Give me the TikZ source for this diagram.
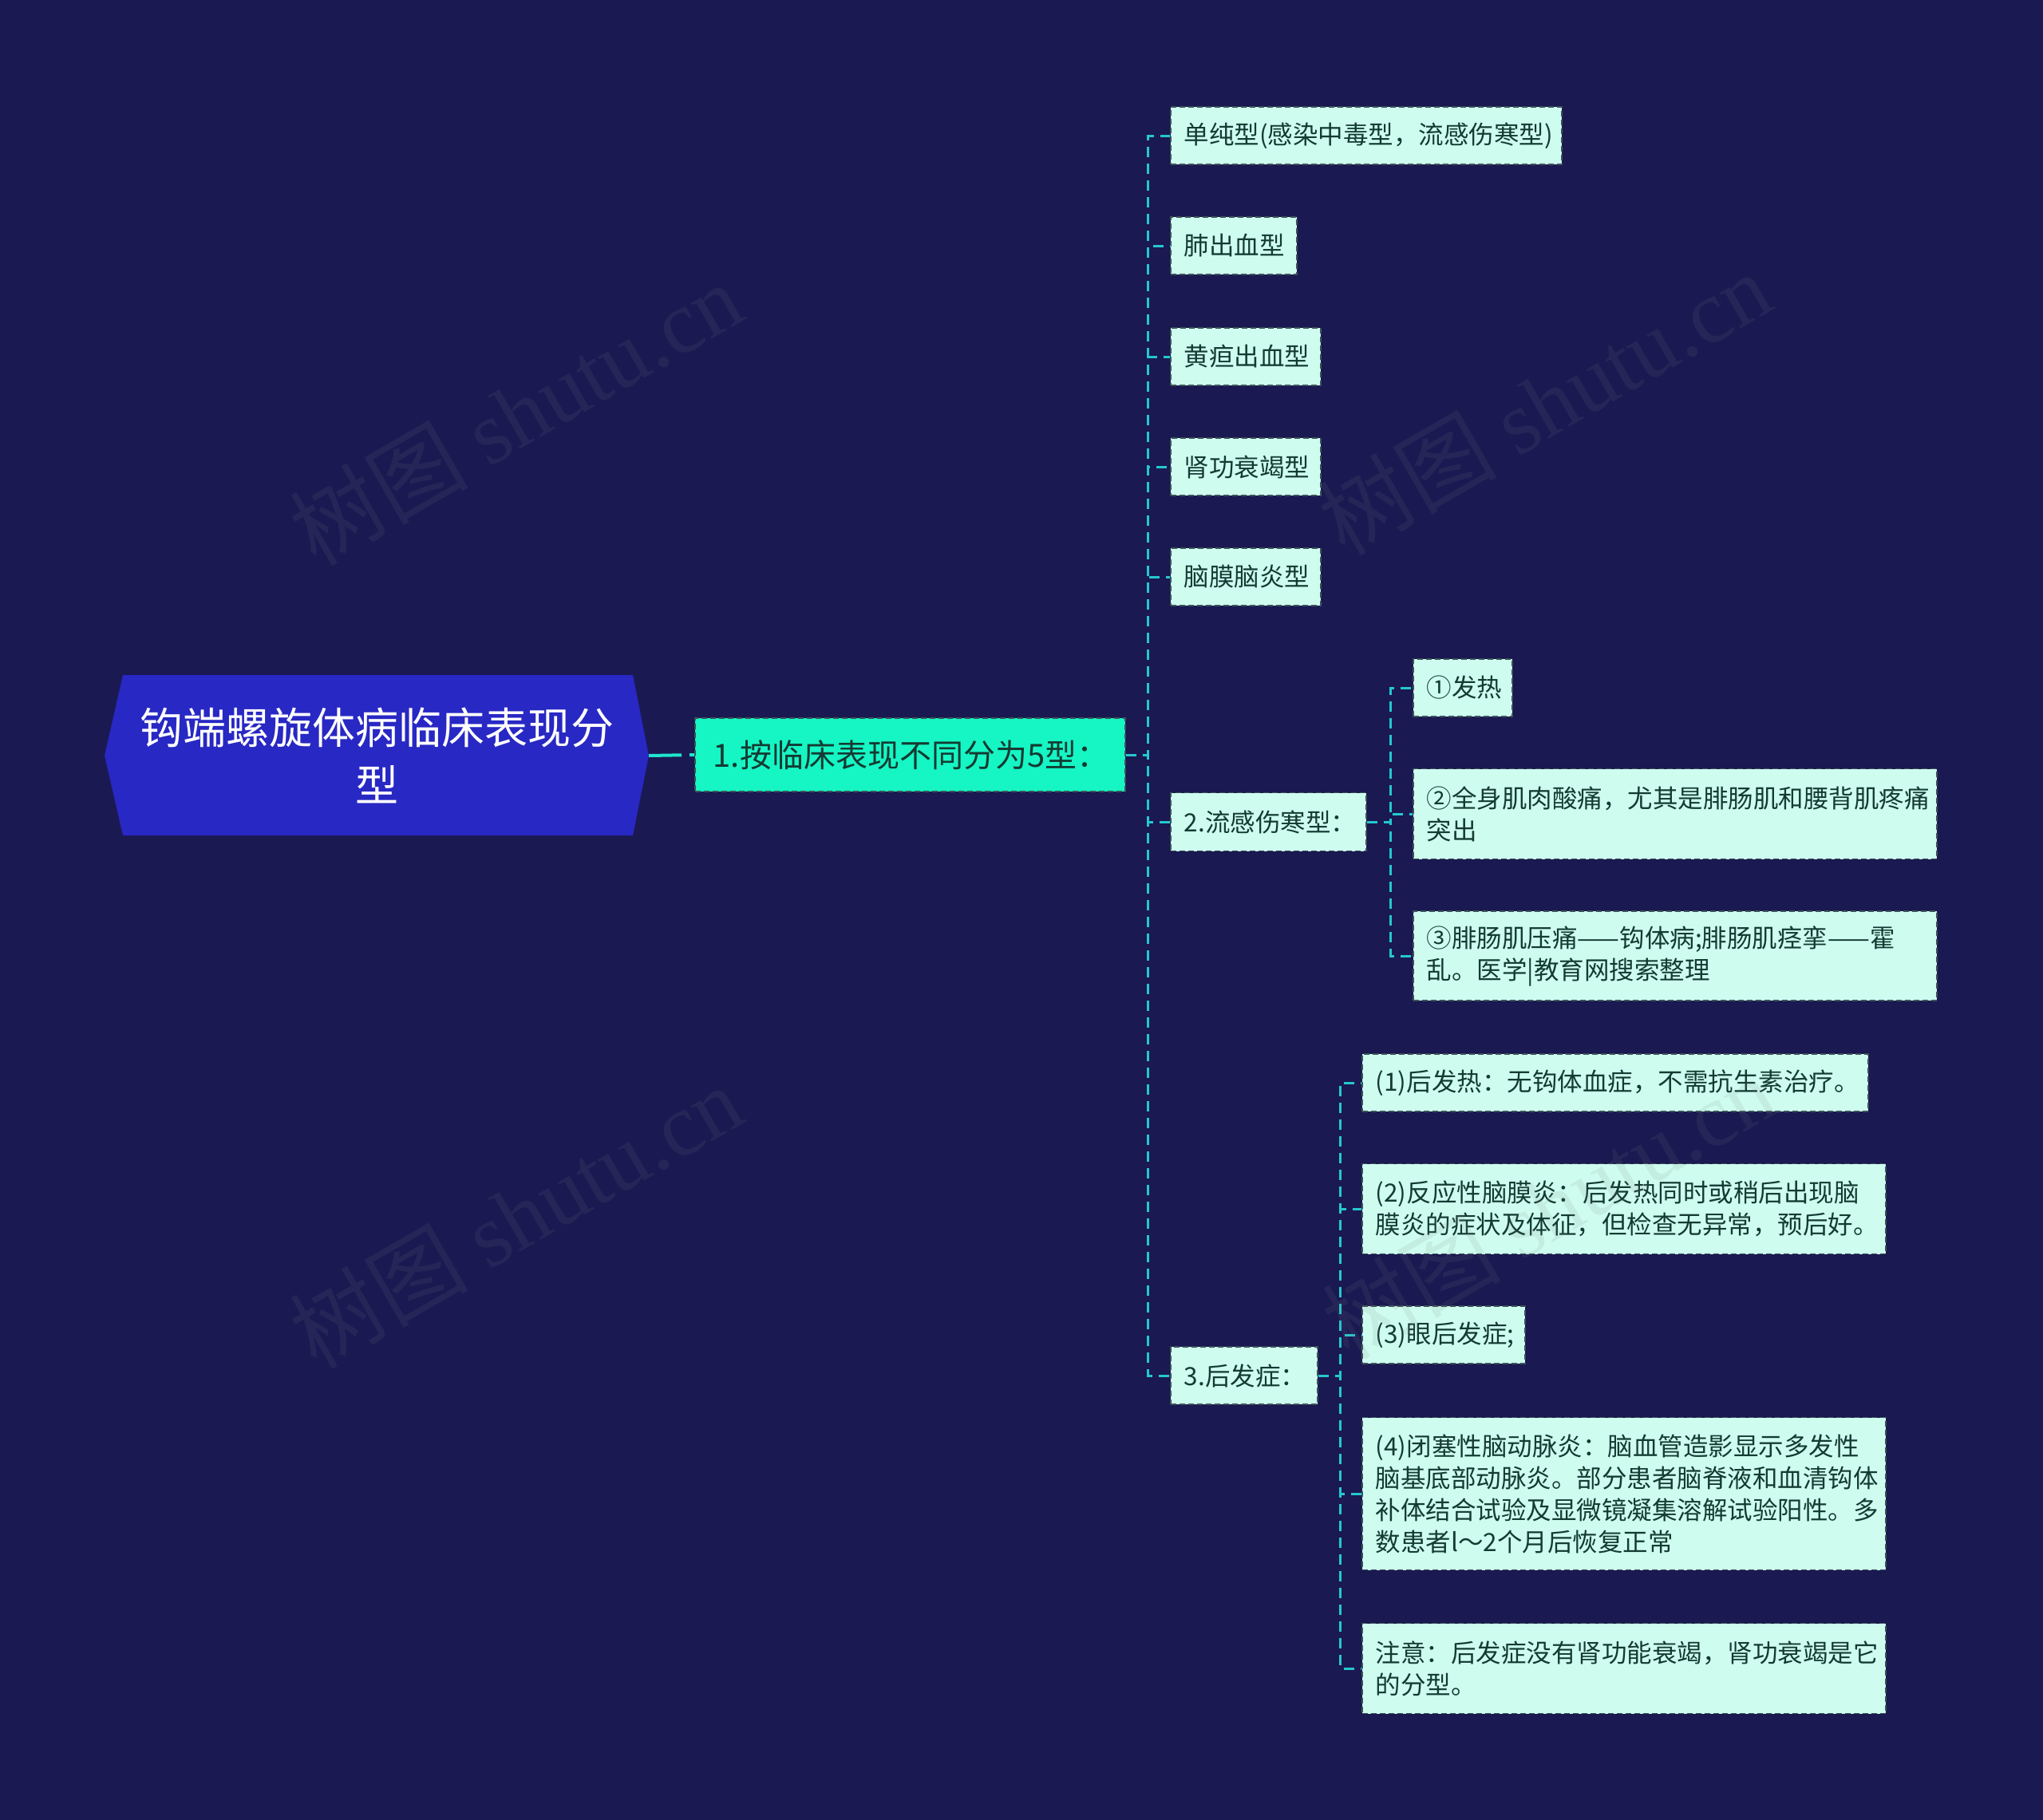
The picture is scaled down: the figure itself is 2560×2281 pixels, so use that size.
\documentclass[tikz,border=0pt]{standalone}
\usepackage{fontspec}
\setmainfont{Noto Sans CJK SC}
\newfontfamily\wmlatin{Liberation Serif}
\usetikzlibrary{calc}
\definecolor{bgc}{RGB}{26,25,82}
\definecolor{rootc}{RGB}{40,40,196}
\definecolor{lonec}{RGB}{22,245,196}
\definecolor{leafc}{RGB}{206,253,240}
\definecolor{txtc}{RGB}{20,58,50}
\definecolor{bordc}{RGB}{60,84,84}
\definecolor{connc}{RGB}{36,200,206}
\definecolor{rconnc}{RGB}{32,228,204}
\begin{document}
\begin{tikzpicture}[x=1pt,y=-1pt,
  leaf/.style={draw=bordc, line width=1.5pt, dash pattern=on 7pt off 4pt, fill=leafc, text=txtc,
    font=\fontsize{31.5}{40}\selectfont, inner xsep=17pt, inner ysep=0pt, align=left, anchor=west},
  lone/.style={draw=bordc, line width=1.5pt, dash pattern=on 7pt off 4pt, fill=lonec, text=txtc,
    font=\fontsize{40}{46}\selectfont, inner xsep=23pt, inner ysep=0pt, align=left, anchor=west},
  conn/.style={draw=connc, line width=3pt, dash pattern=on 13pt off 8pt},
  rconn/.style={draw=rconnc, line width=4pt, dash pattern=on 41pt off 10pt},
  wm/.style={rotate=30, text=gray, opacity=0.12, font=\fontsize{112}{120}\selectfont, inner sep=0pt}
]
\fill[bgc] (0,0) rectangle (2560,2281);
\useasboundingbox (0,0) rectangle (2560,2281);

% root
\fill[rootc] (131,947) -- (154,846) -- (793,846) -- (813,947) -- (793,1047) -- (154,1047) -- cycle;
\node[text=white, align=center, font=\fontsize{54}{72}\selectfont, inner sep=0pt] (root) at (472,947) {钩端螺旋体病临床表现分\\型};
\coordinate (rootR) at (813,947);

% level 1
\node[lone, text width=493pt, minimum height=92pt] (L1) at (870,946) {1.按临床表现不同分为5型：};

% level 2
\node[leaf, text width=456pt, minimum height=72pt] (a1) at (1466,170) {单纯型(感染中毒型，流感伤寒型)};
\node[leaf, text width=124pt, minimum height=72pt] (a2) at (1466,308) {肺出血型};
\node[leaf, text width=154pt, minimum height=72pt] (a3) at (1466,447) {黄疸出血型};
\node[leaf, text width=154pt, minimum height=72pt] (a4) at (1466,585) {肾功衰竭型};
\node[leaf, text width=154pt, minimum height=72pt] (a5) at (1466,723) {脑膜脑炎型};
\node[leaf, text width=211pt, minimum height=73pt] (a6) at (1466,1030) {2.流感伤寒型：};
\node[leaf, text width=150pt, minimum height=72pt] (a7) at (1466,1724) {3.后发症：};

% level 3 under a6
\node[leaf, text width=90pt, minimum height=72pt] (b1) at (1770,862) {①发热};
\node[leaf, text width=622pt, minimum height=113pt] (b2) at (1770,1020) {②全身肌肉酸痛，尤其是腓肠肌和腰背肌疼痛\\突出};
\node[leaf, text width=622pt, minimum height=112pt] (b3) at (1770,1198) {③腓肠肌压痛——钩体病;腓肠肌痉挛——霍\\乱。医学|教育网搜索整理};

% level 3 under a7
\node[leaf, text width=600pt, minimum height=72pt] (c1) at (1706,1357) {(1)后发热：无钩体血症，不需抗生素治疗。};
\node[leaf, text width=622pt, minimum height=113pt] (c2) at (1706,1515) {(2)反应性脑膜炎：后发热同时或稍后出现脑\\膜炎的症状及体征，但检查无异常，预后好。};
\node[leaf, text width=170pt, minimum height=72pt] (c3) at (1706,1673) {(3)眼后发症;};
\node[leaf, text width=622pt, minimum height=191pt] (c4) at (1706,1872) {(4)闭塞性脑动脉炎：脑血管造影显示多发性\\脑基底部动脉炎。部分患者脑脊液和血清钩体\\补体结合试验及显微镜凝集溶解试验阳性。多\\数患者l～2个月后恢复正常};
\node[leaf, text width=622pt, minimum height=113pt] (c5) at (1706,2091) {注意：后发症没有肾功能衰竭，肾功衰竭是它\\的分型。};

% connectors
\draw[rconn] (rootR) -- (L1.west);
\foreach \n in {a1,a2,a3,a4,a5,a6,a7}
  \draw[conn] (L1.east) -- ++(28,0) |- (\n.west);
\foreach \n in {b1,b2,b3}
  \draw[conn] (a6.east) -- ++(30,0) |- (\n.west);
\foreach \n in {c1,c2,c3,c4,c5}
  \draw[conn] (a7.east) -- ++(28,0) |- (\n.west);

% watermarks
\node[wm] (w1) at (646,518) {树图 {\wmlatin shutu.cn}};
\node[wm] (w2) at (1935,505) {树图 {\wmlatin shutu.cn}};
\node[wm] (w3) at (646,1524) {树图 {\wmlatin shutu.cn}};
\node[wm] (w4) at (1940,1512) {树图 {\wmlatin shutu.cn}};
\end{tikzpicture}
\end{document}
